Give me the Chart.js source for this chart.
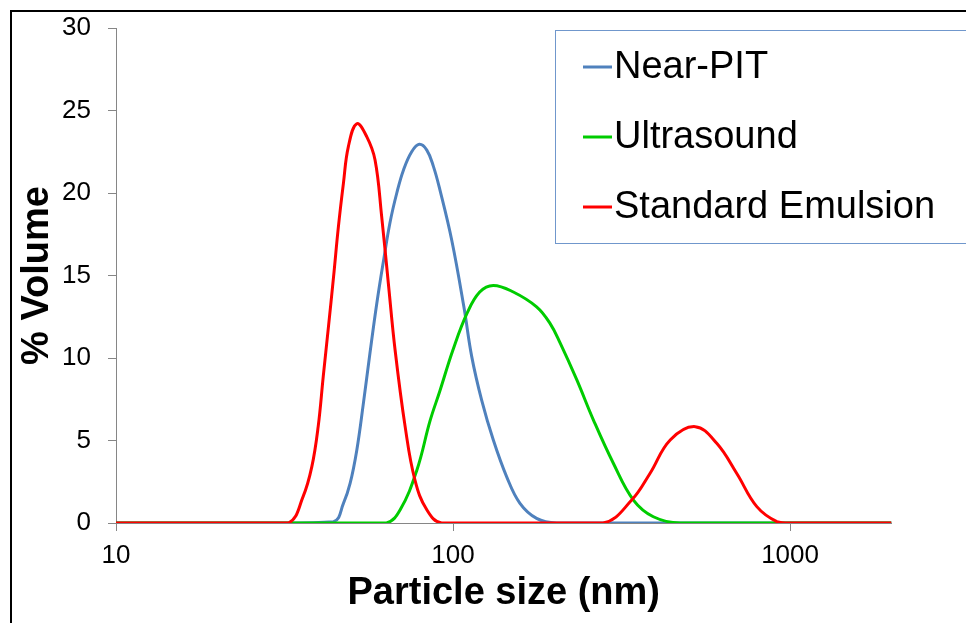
<!DOCTYPE html>
<html>
<head>
<meta charset="utf-8">
<script src="https://cdn.jsdelivr.net/npm/chart.js@4.4.0/dist/chart.umd.min.js"></script>
<style>
    html, body { margin: 0; padding: 0; background: #fff; }
    canvas { display: block; }
</style>
</head>
<body>
<canvas id="myChart" width="966" height="623"></canvas>
<script>
// particle size (nm) / % volume
const nearPitSize = [10, 30, 44.2, 47.3, 49.5, 51.8, 54.2, 56.7, 59.4, 62.2, 65.0, 68.1, 71.3, 75.4, 79.4, 83.6, 87.5, 91.4, 99.1, 107.7, 113.6, 121.6, 131.7, 144.3, 158, 177, 203, 500, 2000];
const nearPitVol = [0, 0, 0.08, 1.19, 2.4, 4.4, 7.25, 10.3, 13.3, 15.9, 18.2, 20.0, 21.4, 22.5, 22.95, 22.6, 21.6, 20.2, 17.15, 13.1, 10.1, 7.45, 5.03, 2.8, 1.19, 0.28, 0, 0, 0];

const ultrasoundSize = [10, 50, 63.5, 69.7, 78.1, 85.5, 91.4, 100, 110, 120, 131.7, 151, 177, 194, 208, 233, 261, 299, 343, 393, 472, 2000];
const ultrasoundVol = [0, 0, 0, 0.8, 3.2, 6.2, 8.0, 10.5, 12.7, 14.0, 14.4, 14.0, 13.1, 12.1, 10.9, 8.67, 6.24, 3.62, 1.39, 0.38, 0, 0];

const standardSize = [10, 25, 32.5, 35.9, 38.1, 39.8, 41.2, 42.7, 44.2, 45.7, 47.3, 48.9, 51.8, 55.5, 58.7, 61.4, 64.3, 67.3, 72.1, 77.1, 83.6, 92.5, 150, 279, 339, 384, 441, 523, 606, 695, 797, 914, 1000, 2000];
const standardVol = [0, 0, 0, 1.6, 3.4, 5.84, 8.87, 11.9, 14.9, 17.96, 20.6, 22.8, 24.2, 23.4, 22.0, 18.6, 14.5, 10.5, 5.84, 2.6, 0.8, 0, 0, 0, 1.39, 3.0, 5.03, 5.84, 4.83, 3.0, 0.99, 0.08, 0, 0];

const xTicks = [10, 100, 1000];
const yTicks = [0, 5, 10, 15, 20, 25, 30];

const toPoints = (xs, ys) => xs.map((x, i) => ({x: x, y: ys[i]}));

const FONT = '"Liberation Sans", Arial, sans-serif';
const axisGrey = '#868686';

Chart.defaults.font.family = FONT;
Chart.defaults.color = '#000';

// black frame on the top and left edge of the picture
const frame = {
    id: 'frame',
    beforeDraw(chart) {
        const ctx = chart.ctx;
        ctx.save();
        ctx.fillStyle = '#fff';
        ctx.fillRect(0, 0, chart.width, chart.height);
        ctx.fillStyle = '#000';
        ctx.fillRect(10, 10, chart.width, 2);
        ctx.fillRect(10, 10, 2, chart.height);
        ctx.restore();
    }
};

// legend box sitting inside the plot, like the excel one
const boxLegend = {
    id: 'boxLegend',
    afterDraw(chart) {
        const ctx = chart.ctx;
        ctx.save();
        ctx.fillStyle = '#fff';
        ctx.fillRect(556, 31, 420, 213);
        ctx.strokeStyle = '#7097cc';
        ctx.lineWidth = 1;
        ctx.strokeRect(555.5, 30.5, 420, 213);
        ctx.font = '38px ' + FONT;
        ctx.textBaseline = 'middle';
        ctx.textAlign = 'left';
        chart.data.datasets.forEach((ds, i) => {
            const y = 67 + i * 70;
            ctx.strokeStyle = ds.borderColor;
            ctx.lineWidth = 3;
            ctx.beginPath();
            ctx.moveTo(583, y);
            ctx.lineTo(612, y);
            ctx.stroke();
            ctx.fillStyle = '#000';
            ctx.fillText(ds.label, 614, y + 1);
        });
        ctx.restore();
    }
};

const ctx = document.getElementById('myChart').getContext('2d');

const myChart = new Chart(ctx, {
    type: 'line',
    data: {
        datasets: [{
            label: 'Near-PIT',
            data: toPoints(nearPitSize, nearPitVol),
            borderColor: '#4f81bd',
            order: 2
        }, {
            label: 'Ultrasound',
            data: toPoints(ultrasoundSize, ultrasoundVol),
            borderColor: '#00cc00',
            order: 1
        }, {
            label: 'Standard Emulsion',
            data: toPoints(standardSize, standardVol),
            borderColor: '#ff0000',
            order: 0
        }]
    },
    options: {
        responsive: false,
        animation: false,
        devicePixelRatio: 1,
        datasets: {
            line: {
                borderWidth: 3,
                pointRadius: 0,
                tension: 0.4,
                fill: false
            }
        },
        layout: {
            padding: {left: 19, top: 28, right: 74.5, bottom: 10.5}
        },
        plugins: {
            legend: {display: false},
            tooltip: {enabled: false}
        },
        scales: {
            x: {
                type: 'logarithmic',
                min: 10,
                max: 2000,
                afterBuildTicks: (axis) => {
                    axis.ticks = xTicks.map(v => ({value: v}));
                },
                afterFit: (scale) => {
                    scale.height = 89.5;
                },
                border: {color: axisGrey, width: 1},
                grid: {
                    drawOnChartArea: false,
                    tickLength: 8,
                    color: axisGrey
                },
                ticks: {
                    font: {size: 26},
                    padding: 9,
                    maxRotation: 0,
                    callback: (value) => String(value)
                },
                title: {
                    display: true,
                    text: 'Particle size (nm)',
                    font: {size: 38, weight: 'bold', lineHeight: 1},
                    padding: 0
                }
            },
            y: {
                min: 0,
                max: 30,
                afterBuildTicks: (axis) => {
                    axis.ticks = yTicks.map(v => ({value: v}));
                },
                afterFit: (scale) => {
                    scale.width = 97;
                },
                border: {color: axisGrey, width: 1},
                grid: {
                    drawOnChartArea: false,
                    tickLength: 8,
                    color: axisGrey
                },
                ticks: {
                    font: {size: 26, lineHeight: 0.6},
                    padding: 17
                },
                title: {
                    display: true,
                    text: '% Volume',
                    font: {size: 38, weight: 'bold', lineHeight: 1},
                    padding: 0
                }
            }
        }
    },
    plugins: [frame, boxLegend]
});
</script>
</body>
</html>
